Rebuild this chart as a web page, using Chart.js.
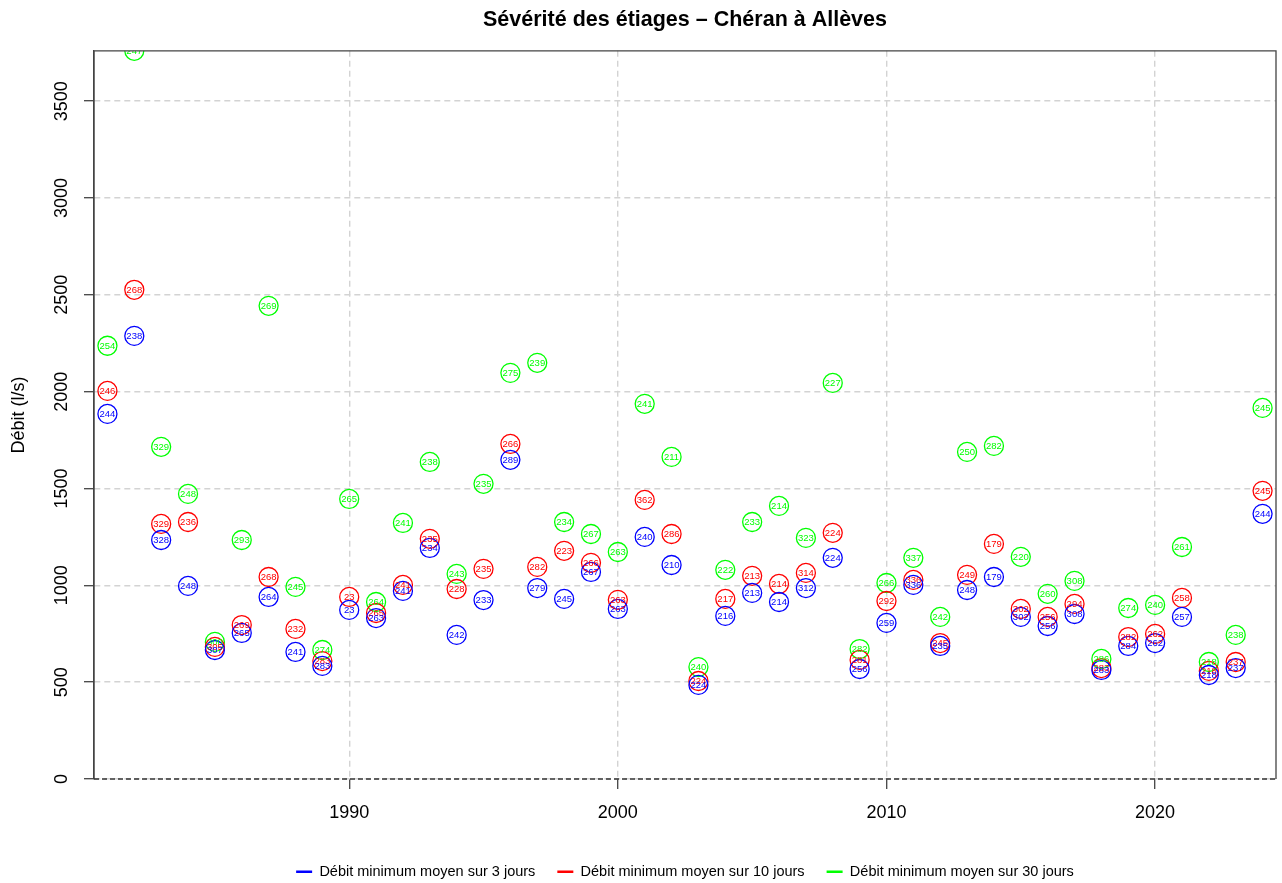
<!DOCTYPE html>
<html>
<head>
<meta charset="utf-8">
<script src="https://cdn.jsdelivr.net/npm/chart.js@4.4.1/dist/chart.umd.min.js"></script>
<style>
  html, body { margin: 0; padding: 0; background: #fff; }
</style>
</head>
<body>
<canvas id="chart" width="1282" height="883"></canvas>
<script>
// years and minimum flows (l/s), labels = day of year of the minimum
const years = [1981, 1982, 1983, 1984, 1985, 1986, 1987, 1988, 1989, 1990,
  1991, 1992, 1993, 1994, 1995, 1996, 1997, 1998, 1999, 2000,
  2001, 2002, 2003, 2004, 2005, 2006, 2007, 2008, 2009, 2010,
  2011, 2012, 2013, 2014, 2015, 2016, 2017, 2018, 2019, 2020,
  2021, 2022, 2023, 2024];

const q3 = [1885, 2288, 1234, 997, 666, 754, 940, 656, 584, 873,
  831, 971, 1193, 744, 924, 1648, 986, 930, 1069, 878,
  1250, 1105, 486, 842, 961, 914, 986, 1142, 568, 806,
  1002, 687, 976, 1043, 837, 790, 852, 563, 687, 702,
  837, 537, 573, 1369];
const j3 = [244, 238, 328, 248, 307, 265, 264, 241, 283, 23,
  263, 241, 234, 242, 233, 289, 279, 245, 267, 263,
  240, 210, 224, 216, 213, 214, 312, 224, 256, 259,
  336, 235, 248, 179, 302, 256, 308, 283, 284, 262,
  257, 218, 237, 244];

const q10 = [2004, 2526, 1317, 1327, 682, 795, 1043, 775, 609, 940,
  857, 1002, 1240, 981, 1085, 1730, 1095, 1178, 1116, 925,
  1441, 1265, 506, 930, 1049, 1007, 1064, 1271, 615, 919,
  1028, 702, 1054, 1214, 878, 837, 904, 573, 733, 749,
  935, 558, 604, 1488];
const j10 = [246, 268, 329, 236, 305, 269, 268, 232, 283, 23,
  265, 241, 235, 228, 235, 266, 282, 223, 266, 263,
  362, 286, 224, 217, 213, 214, 314, 224, 281, 292,
  336, 245, 249, 179, 302, 256, 294, 283, 282, 262,
  258, 218, 237, 245];

const q30 = [2237, 3760, 1715, 1472, 708, 1234, 2443, 992, 666, 1446,
  914, 1322, 1637, 1059, 1524, 2097, 2149, 1327, 1265, 1172,
  1937, 1663, 578, 1080, 1327, 1410, 1245, 2045, 671, 1012,
  1142, 837, 1689, 1720, 1147, 956, 1023, 620, 883, 899,
  1198, 604, 744, 1916];
const j30 = [254, 247, 329, 248, 300, 293, 269, 245, 274, 265,
  264, 241, 238, 243, 235, 275, 239, 234, 267, 263,
  241, 211, 240, 222, 233, 214, 323, 227, 282, 266,
  337, 242, 250, 282, 220, 260, 308, 286, 274, 240,
  261, 218, 238, 245];

const xTicks = [1990, 2000, 2010, 2020];
const yTicks = [0, 500, 1000, 1500, 2000, 2500, 3000, 3500];

const FONT = '"Liberation Sans", Arial, Helvetica, sans-serif';

function makeSet(label, values, days, color) {
  return {
    label: label,
    data: years.map((y, i) => ({ x: y, y: values[i] })),
    days: days,
    borderColor: color,
    backgroundColor: 'rgba(0,0,0,0)',
    pointRadius: 9.5,
    pointHoverRadius: 9.5,
    pointBorderWidth: 1.3,
    showLine: false
  };
}

// text of each point (day number) drawn at the point's pixel position
const dayLabels = {
  id: 'dayLabels',
  afterDatasetsDraw(chart) {
    const ctx = chart.ctx;
    const a = chart.chartArea;
    ctx.save();
    ctx.beginPath();
    ctx.rect(a.left, a.top, a.right - a.left, a.bottom - a.top);
    ctx.clip();
    ctx.font = '9.5px ' + FONT;
    ctx.textAlign = 'center';
    ctx.textBaseline = 'middle';
    for (let i = chart.data.datasets.length - 1; i >= 0; i--) {
      const ds = chart.data.datasets[i];
      ctx.fillStyle = ds.borderColor;
      chart.getDatasetMeta(i).data.forEach((pt, j) => {
        ctx.fillText(String(ds.days[j]), pt.x, pt.y + 0.5);
      });
    }
    ctx.restore();
  }
};

// box around the plot, dashed line at zero
const plotBox = {
  id: 'plotBox',
  afterDraw(chart) {
    const ctx = chart.ctx;
    const a = chart.chartArea;
    ctx.save();
    ctx.strokeStyle = '#444';
    ctx.lineWidth = 1.3;
    ctx.beginPath();
    ctx.moveTo(a.left, a.bottom);
    ctx.lineTo(a.left, a.top);
    ctx.lineTo(a.right, a.top);
    ctx.lineTo(a.right, a.bottom);
    ctx.stroke();
    const y0 = chart.scales.y.getPixelForValue(0);
    ctx.setLineDash([5, 3]);
    ctx.strokeStyle = '#333';
    ctx.beginPath();
    ctx.moveTo(a.left, y0);
    ctx.lineTo(a.right, y0);
    ctx.stroke();
    ctx.restore();
  }
};

new Chart(document.getElementById('chart'), {
  type: 'scatter',
  data: {
    datasets: [
      makeSet('Débit minimum moyen sur 3 jours', q3, j3, '#0000ff'),
      makeSet('Débit minimum moyen sur 10 jours', q10, j10, '#ff0000'),
      makeSet('Débit minimum moyen sur 30 jours', q30, j30, '#00ff00')
    ]
  },
  options: {
    responsive: false,
    animation: false,
    layout: { autoPadding: false, padding: { left: 0, right: 6, top: 0, bottom: -6 } },
    plugins: {
      tooltip: { enabled: false },
      title: {
        display: true,
        fullSize: false,
        text: 'Sévérité des étiages – Chéran à Allèves',
        color: '#000',
        font: { family: FONT, size: 21.5, weight: 'bold' },
        padding: { top: 7, bottom: 18 }
      },
      legend: {
        position: 'bottom',
        fullSize: false,
        labels: {
          color: '#000',
          font: { family: FONT, size: 14.5 },
          padding: 22,
          usePointStyle: true,
          pointStyleWidth: 16,
          generateLabels(chart) {
            return chart.data.datasets.map((ds, i) => ({
              text: ds.label,
              fillStyle: ds.borderColor,
              strokeStyle: ds.borderColor,
              lineWidth: 2.5,
              pointStyle: 'line',
              hidden: false,
              datasetIndex: i,
              fontColor: '#000'
            }));
          }
        }
      }
    },
    scales: {
      x: {
        type: 'linear',
        min: 1980.5,
        max: 2024.5,
        afterBuildTicks: (scale) => { scale.ticks = xTicks.map(v => ({ value: v })); },
        afterFit: (scale) => { scale.height = 63.5; },
        ticks: {
          color: '#000',
          font: { family: FONT, size: 18 },
          padding: 13,
          maxRotation: 0,
          autoSkip: false,
          callback: (v) => String(v)
        },
        grid: {
          color: '#d3d3d3',
          lineWidth: 1.4,
          tickLength: 10,
          tickColor: '#444',
          tickWidth: 1.3
        },
        border: { display: false, dash: [6, 4] }
      },
      y: {
        min: 0,
        max: 3760,
        afterBuildTicks: (scale) => { scale.ticks = yTicks.map(v => ({ value: v })); },
        afterFit: (scale) => { scale.width = 94; },
        title: {
          display: true,
          text: 'Débit (l/s)',
          color: '#000',
          font: { family: FONT, size: 18 },
          padding: { top: 8, bottom: 0 }
        },
        ticks: {
          color: '#000',
          font: { family: FONT, size: 18 },
          padding: 2,
          minRotation: 90,
          maxRotation: 90,
          crossAlign: 'center',
          autoSkip: false,
          callback: (v) => String(v)
        },
        grid: {
          color: '#d3d3d3',
          lineWidth: 1.4,
          tickLength: 10,
          tickColor: '#444',
          tickWidth: 1.3
        },
        border: { display: true, color: '#444', width: 1.3, dash: [6, 4] }
      }
    }
  },
  plugins: [dayLabels, plotBox]
});
</script>
</body>
</html>
